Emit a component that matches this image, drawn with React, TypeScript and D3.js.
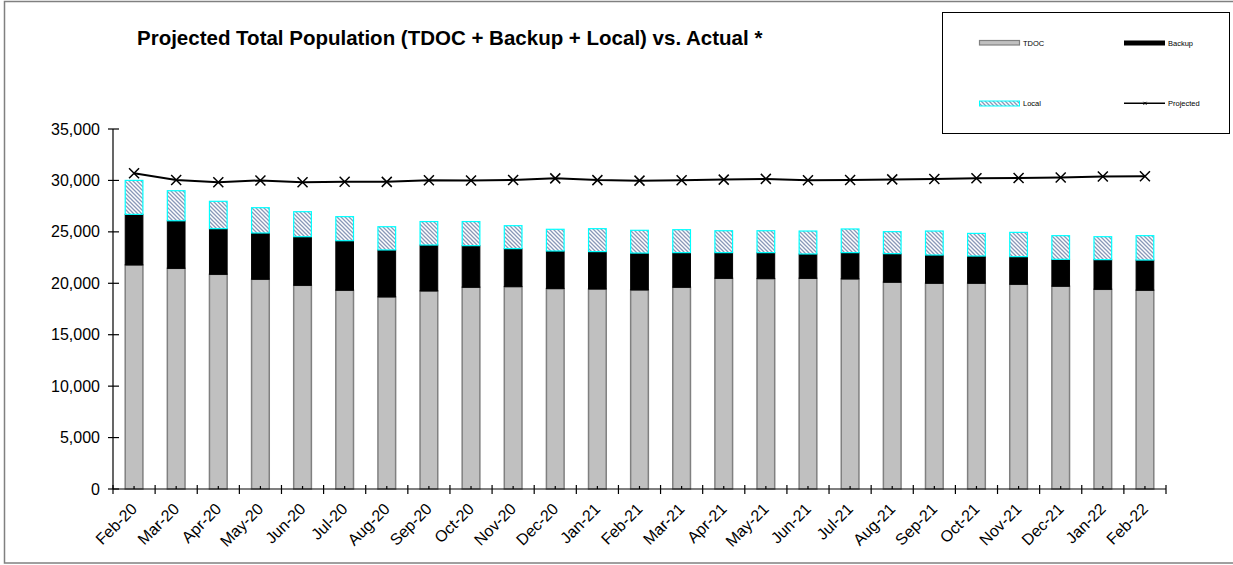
import { useEffect, useRef } from 'react';
import * as d3 from 'd3';

const months = [
  'Feb-20', 'Mar-20', 'Apr-20', 'May-20', 'Jun-20', 'Jul-20', 'Aug-20', 'Sep-20', 'Oct-20',
  'Nov-20', 'Dec-20', 'Jan-21', 'Feb-21', 'Mar-21', 'Apr-21', 'May-21', 'Jun-21', 'Jul-21',
  'Aug-21', 'Sep-21', 'Oct-21', 'Nov-21', 'Dec-21', 'Jan-22', 'Feb-22',
];

const tdoc = [
  21780, 21450, 20870, 20390, 19800, 19320, 18670, 19250, 19610, 19670, 19480, 19440, 19350,
  19610, 20480, 20450, 20480, 20420, 20100, 20000, 20000, 19900, 19710, 19410, 19320,
];
const backup = [
  4920, 4630, 4440, 4500, 4730, 4820, 4570, 4470, 4050, 3700, 3660, 3640, 3590,
  3370, 2500, 2530, 2370, 2560, 2780, 2750, 2650, 2690, 2620, 2890, 2940,
];
const local = [
  3300, 2920, 2660, 2460, 2430, 2340, 2260, 2280, 2340, 2230, 2110, 2230, 2210,
  2230, 2130, 2130, 2230, 2300, 2140, 2330, 2200, 2360, 2300, 2230, 2370,
];
const projected = [
  30700, 30050, 29820, 30000, 29830, 29880, 29860, 30020, 30000, 30040, 30200, 30030, 29980,
  30020, 30080, 30150, 30010, 30040, 30100, 30140, 30220, 30230, 30290, 30380, 30400,
];

const yTicks = [0, 5000, 10000, 15000, 20000, 25000, 30000, 35000];

const W = 1233;
const H = 565;
const FONT = 'Arial, "Liberation Sans", sans-serif';

export default function App() {
  const svgRef = useRef<SVGSVGElement>(null);

  useEffect(() => {
    if (!svgRef.current) return;
    const svg = d3.select(svgRef.current);
    svg.selectAll('*').remove();

    const x = d3
      .scaleBand<string>()
      .domain(months)
      .range([113, 1166])
      .paddingInner(0.58)
      .paddingOuter(0.29);
    const step = x.step();
    const y = d3.scaleLinear().domain([0, 35000]).range([489, 129]);

    // hatch pattern for Local
    const defs = svg.append('defs');
    const pat = defs
      .append('pattern')
      .attr('id', 'hatch')
      .attr('patternUnits', 'userSpaceOnUse')
      .attr('width', 4)
      .attr('height', 4);
    pat.append('rect').attr('width', 4).attr('height', 4).attr('fill', '#ffffff');
    pat
      .append('path')
      .attr('d', 'M-1,-1 L5,5 M-1,3 L1,5 M3,-1 L5,1')
      .attr('stroke', '#8a98b8')
      .attr('stroke-width', 1.3);

    svg.append('rect').attr('width', W).attr('height', H).attr('fill', '#fff');

    // outer frame
    svg
      .append('rect')
      .attr('x', 4.5)
      .attr('y', 1.5)
      .attr('width', 1240)
      .attr('height', 561.5)
      .attr('fill', 'none')
      .attr('stroke', '#808080')
      .attr('stroke-width', 1.5);

    svg
      .append('text')
      .attr('x', 137)
      .attr('y', 45)
      .attr('font-family', FONT)
      .attr('font-size', 20.5)
      .attr('font-weight', 'bold')
      .text('Projected Total Population (TDOC + Backup + Local) vs. Actual *');

    // bars
    const g = svg.append('g');
    months.forEach((m, i) => {
      const bx = x(m)!;
      const bw = x.bandwidth();
      const t = tdoc[i];
      const b = t + backup[i];
      const l = b + local[i];
      g.append('rect')
        .attr('x', bx)
        .attr('y', y(t))
        .attr('width', bw)
        .attr('height', y(0) - y(t))
        .attr('fill', '#c0c0c0')
        .attr('stroke', '#808080')
        .attr('stroke-width', 1.5);
      g.append('rect')
        .attr('x', bx)
        .attr('y', y(b))
        .attr('width', bw)
        .attr('height', y(t) - y(b))
        .attr('fill', '#000')
        .attr('stroke', '#000')
        .attr('stroke-width', 1);
      g.append('rect')
        .attr('x', bx)
        .attr('y', y(l))
        .attr('width', bw)
        .attr('height', y(b) - y(l))
        .attr('fill', 'url(#hatch)')
        .attr('stroke', '#00ffff')
        .attr('stroke-width', 1.2);
    });

    // axes
    const axis = svg.append('g').attr('stroke', '#000').attr('stroke-width', 1.2);
    axis.append('line').attr('x1', 113).attr('x2', 113).attr('y1', y(35000)).attr('y2', y(0));
    axis.append('line').attr('x1', 113).attr('x2', 1166).attr('y1', y(0)).attr('y2', y(0));
    yTicks.forEach((v) => {
      axis.append('line').attr('x1', 108).attr('x2', 119).attr('y1', y(v)).attr('y2', y(v));
    });
    for (let i = 0; i <= months.length; i++) {
      const tx = 113 + i * step;
      axis.append('line').attr('x1', tx).attr('x2', tx).attr('y1', 485).attr('y2', 494);
    }
    months.forEach((m) => {
      const cx = x(m)! + x.bandwidth() / 2;
      axis.append('line').attr('x1', cx).attr('x2', cx).attr('y1', 486).attr('y2', 489);
    });

    svg
      .append('g')
      .selectAll('text')
      .data(yTicks)
      .join('text')
      .attr('x', 100)
      .attr('y', (d) => y(d))
      .attr('dy', '0.35em')
      .attr('text-anchor', 'end')
      .attr('font-family', FONT)
      .attr('font-size', 16)
      .text((d) => d3.format(',')(d));

    svg
      .append('g')
      .selectAll('text')
      .data(months)
      .join('text')
      .attr('transform', (d) => `translate(${x(d)! + x.bandwidth() / 2 + 4},${510}) rotate(-45)`)
      .attr('text-anchor', 'end')
      .attr('font-family', FONT)
      .attr('font-size', 16)
      .text((d) => d);

    // projected line
    const line = d3
      .line<number>()
      .x((_, i) => x(months[i])! + x.bandwidth() / 2)
      .y((d) => y(d));
    svg
      .append('path')
      .datum(projected)
      .attr('d', line)
      .attr('fill', 'none')
      .attr('stroke', '#000')
      .attr('stroke-width', 2);
    const s = 5;
    svg
      .append('g')
      .selectAll('path')
      .data(projected)
      .join('path')
      .attr('d', (d, i) => {
        const cx = x(months[i])! + x.bandwidth() / 2;
        const cy = y(d);
        return `M${cx - s},${cy - s}L${cx + s},${cy + s}M${cx - s},${cy + s}L${cx + s},${cy - s}`;
      })
      .attr('stroke', '#000')
      .attr('stroke-width', 1.5);

    // legend
    const lg = svg.append('g');
    lg.append('rect')
      .attr('x', 942.5)
      .attr('y', 12.5)
      .attr('width', 287)
      .attr('height', 121)
      .attr('fill', '#fff')
      .attr('stroke', '#000')
      .attr('stroke-width', 1);
    lg.append('rect').attr('x', 979.5).attr('y', 40.5).attr('width', 40).attr('height', 4.5)
      .attr('fill', '#c0c0c0').attr('stroke', '#808080').attr('stroke-width', 1.2);
    lg.append('rect').attr('x', 1124).attr('y', 40.5).attr('width', 41).attr('height', 5)
      .attr('fill', '#000');
    lg.append('rect').attr('x', 979.5).attr('y', 101).attr('width', 40).attr('height', 5)
      .attr('fill', 'url(#hatch)').attr('stroke', '#00ffff').attr('stroke-width', 1);
    lg.append('line').attr('x1', 1124).attr('x2', 1165).attr('y1', 103.3).attr('y2', 103.3)
      .attr('stroke', '#000').attr('stroke-width', 1.5);
    lg.append('path').attr('d', 'M1143.5,101.8L1146.5,104.8M1143.5,104.8L1146.5,101.8')
      .attr('stroke', '#000').attr('stroke-width', 1);
    const legendText: [string, number, number][] = [
      ['TDOC', 1023, 43],
      ['Backup', 1168, 43],
      ['Local', 1023, 103.5],
      ['Projected', 1168, 103.5],
    ];
    legendText.forEach(([t, lx, ly]) => {
      lg.append('text')
        .attr('x', lx)
        .attr('y', ly)
        .attr('dy', '0.35em')
        .attr('font-family', FONT)
        .attr('font-size', 7.5)
        .text(t);
    });
  }, []);

  return (
    <div style={{ position: 'fixed', left: 0, top: 0, width: W, height: H, background: '#fff' }}>
      <svg ref={svgRef} width={W} height={H} viewBox={`0 0 ${W} ${H}`} />
    </div>
  );
}
